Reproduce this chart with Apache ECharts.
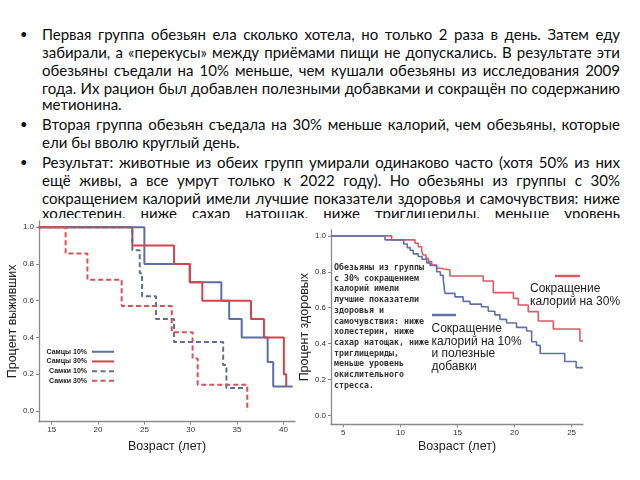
<!DOCTYPE html>
<html><head><meta charset="utf-8">
<script src="https://cdn.jsdelivr.net/npm/echarts@6/dist/echarts.min.js"></script>
<style>
html,body{margin:0;padding:0;background:#fff;}
#wrap{position:relative;width:640px;height:480px;overflow:hidden;background:#fff;}
#text{position:absolute;left:0;top:0;width:640px;height:480px;font-family:Lato,'Liberation Sans',sans-serif;color:#0d0d0d;}
.ln{position:absolute;left:42px;white-space:nowrap;}
.bul{position:absolute;left:20px;font-size:13px;}
#chart{position:absolute;left:0;top:0;width:640px;height:480px;}
</style></head>
<body><div id="wrap"><div id="text"></div><div id="chart"></div></div>
<script>
// ---------- slide text ----------
const textLines = [
  "Первая группа обезьян ела сколько хотела, но только 2 раза в день. Затем еду",
  "забирали, а «перекусы» между приёмами пищи не допускались. В результате эти",
  "обезьяны съедали на 10% меньше, чем кушали обезьяны из исследования 2009",
  "года. Их рацион был добавлен полезными добавками и сокращён по содержанию",
  "метионина.",
  "Вторая группа обезьян съедала на 30% меньше калорий, чем обезьяны, которые",
  "ели бы вволю круглый день.",
  "Результат: животные из обеих групп умирали одинаково часто (хотя 50% из них",
  "ещё живы, а все умрут только к 2022 году). Но обезьяны из группы с 30%",
  "сокращением калорий имели лучшие показатели здоровья и самочувствия: ниже",
  "холестерин, ниже сахар натощак, ниже триглицериды, меньше уровень"
];
const bulletLines = [0, 5, 7];
const lastLines = [4, 6];

// ---------- left chart data (survival) ----------
const leftSeriesNames = ["Самцы 10%", "Самцы 30%", "Самки 10%", "Самки 30%"];
const maleAge10 = [13.6, 25.0, 29.9, 33.3, 34.15, 35.5, 38.3, 38.9, 41.0];
const maleSurv10 = [1.0, 0.8, 0.7, 0.6, 0.5, 0.4, 0.267, 0.133, 0.133];
const maleAge30 = [13.6, 23.7, 28.2, 29.9, 31.25, 36.5, 37.9, 40.05, 40.3];
const maleSurv30 = [1.0, 0.9, 0.8, 0.7, 0.6, 0.5, 0.4, 0.2, 0.133];
const femAge10 = [13.6, 23.7, 24.5, 24.75, 26.25, 28.2, 33.5, 33.85, 35.7];
const femSurv10 = [1.0, 0.875, 0.75, 0.625, 0.5, 0.375, 0.25, 0.125, 0.125];
const femAge30 = [13.6, 16.5, 18.85, 22.55, 27.95, 30.2, 30.75, 36.1];
const femSurv30 = [1.0, 0.857, 0.714, 0.571, 0.429, 0.286, 0.143, 0.0];
const leftXTicks = [15, 20, 25, 30, 35, 40];
const leftYTicks = [0, 0.2, 0.4, 0.6, 0.8, 1.0];

// ---------- right chart data (healthy) ----------
const r30Age = [3.92, 9.23, 11.28, 11.57, 11.86, 12.0, 12.24, 12.45, 12.74, 13.18, 13.47, 14.34, 17.26, 18.14, 19.9, 20.33, 21.2, 22.08, 23.4, 25.73, 26.0];
const r30Val = [1.0, 0.978, 0.959, 0.94, 0.913, 0.894, 0.875, 0.857, 0.838, 0.82, 0.81, 0.777, 0.749, 0.684, 0.652, 0.615, 0.578, 0.526, 0.481, 0.414, 0.414];
const r10Age = [3.92, 8.65, 10.3, 10.6, 10.85, 11.13, 11.55, 11.9, 12.3, 12.6, 13.18, 13.5, 13.76, 13.9, 14.78, 15.5, 16.1, 17.1, 17.7, 18.28, 18.72, 19.3, 20.18, 21.06, 21.5, 21.93, 22.25, 24.4, 25.4, 26.0];
const r10Val = [1.0, 0.978, 0.955, 0.935, 0.92, 0.90, 0.885, 0.87, 0.85, 0.835, 0.80, 0.78, 0.755, 0.68, 0.66, 0.635, 0.62, 0.605, 0.58, 0.56, 0.535, 0.515, 0.49, 0.47, 0.41, 0.39, 0.345, 0.30, 0.266, 0.266];
const rightXTicks = [5, 10, 15, 20, 25];
const rightYTicks = [0, 0.2, 0.4, 0.6, 0.8, 1.0];

const annotationText = ["Обезьяны из группы","с 30% сокращением","калорий имели","лучшие показатели","здоровья и","самочувствия: ниже","холестерин, ниже","сахар натощак, ниже","триглицериды,","меньше уровень","окислительного","стресса."];
const label30 = ["Сокращение", "калорий на 30%"];
const label10 = ["Сокращение", "калорий на 10%", "и полезные", "добавки"];

// ---------- render text ----------
const lineY = [25, 43, 61, 79, 95, 115, 133, 153, 171, 189, 204];
const textBox = document.getElementById('text');
const lineEls = [];
textLines.forEach((t, i) => {
  const d = document.createElement('div');
  d.className = 'ln';
  d.style.top = lineY[i] + 'px';
  d.textContent = t;
  textBox.appendChild(d);
  lineEls.push(d);
  if (bulletLines.includes(i)) {
    const b = document.createElement('div');
    b.className = 'bul';
    b.style.top = (lineY[i] + 1) + 'px';
    b.textContent = '•';
    textBox.appendChild(b);
  }
});
const TARGET = 578;
let fs = 15;
lineEls.forEach(e => e.style.fontSize = fs + 'px');
let maxW = 0;
lineEls.forEach((e, i) => { if (!lastLines.includes(i)) maxW = Math.max(maxW, e.getBoundingClientRect().width); });
fs = Math.max(12, Math.min(17, fs * (TARGET - 4) / maxW));
lineEls.forEach((e, i) => {
  e.style.fontSize = fs.toFixed(2) + 'px';
  if (!lastLines.includes(i)) {
    const w = e.getBoundingClientRect().width;
    const spaces = (textLines[i].match(/ /g) || []).length;
    if (spaces) e.style.wordSpacing = ((TARGET - w) / spaces).toFixed(2) + 'px';
  }
});

// ---------- chart ----------
const zip = (a, b) => a.map((v, i) => [v, b[i]]);
const axisCol = '#8a8a8a';
function xAx(gi, min, max, ticks, gap) {
  return {
    type: 'value', gridIndex: gi, min, max,
    name: 'Возраст (лет)', nameLocation: 'middle', nameGap: gap,
    nameTextStyle: {fontSize: 12.5, color: '#222', fontFamily: 'Liberation Sans'},
    axisLine: {show: true, onZero: false, lineStyle: {color: axisCol, width: 1.3}},
    axisTick: {show: true, customValues: ticks, length: 3, lineStyle: {color: axisCol}},
    axisLabel: {customValues: ticks, fontSize: 8, color: '#333', margin: 4, fontFamily: 'Liberation Sans'},
    splitLine: {show: false}
  };
}
function yAx(gi, min, max, ticks, name, gap) {
  return {
    type: 'value', gridIndex: gi, min, max,
    name, nameLocation: 'middle', nameGap: gap,
    nameTextStyle: {fontSize: 12.5, color: '#222', fontFamily: 'Liberation Sans'},
    axisLine: {show: true, onZero: false, lineStyle: {color: axisCol, width: 1.3}},
    axisTick: {show: true, customValues: ticks, length: 3, lineStyle: {color: axisCol}},
    axisLabel: {customValues: ticks, fontSize: 8, color: '#333', margin: 5, fontFamily: 'Liberation Sans',
      formatter: v => v.toFixed(1)},
    splitLine: {show: false}
  };
}
function stepSeries(name, ages, vals, color, dashed, width, gi) {
  return {
    type: 'line', name, step: 'end', symbol: 'none', xAxisIndex: gi, yAxisIndex: gi,
    data: zip(ages, vals),
    lineStyle: {color, width, type: dashed ? [5, 3] : 'solid'},
    itemStyle: {color},
    emphasis: {disabled: true}, animation: false
  };
}

const solidIcon = 'path://M0,0H22V2H0Z';
const dashIcon = 'path://M0,0H5V2H0Z M8.5,0H13.5V2H8.5Z M17,0H22V2H17Z';

const graphics = [
  {type: 'rect', shape: {x: 0, y: 218, width: 640, height: 262}, style: {fill: '#fff'}, z: -100, silent: true},
  {type: 'text', left: 334, top: 262.5, z: 100,
    style: {text: annotationText.join('\n'), font: 'bold 8.3px "DejaVu Sans Mono"', lineHeight: 10.7, fill: '#333'}},
  {type: 'line', shape: {x1: 555, y1: 276, x2: 580, y2: 276}, style: {stroke: '#dc5a66', lineWidth: 2.5}, z: 100},
  {type: 'text', left: 530, top: 282, z: 100,
    style: {text: label30.join('\n'), font: '12px "Liberation Sans"', lineHeight: 13.3, fill: '#222'}},
  {type: 'line', shape: {x1: 432, y1: 315, x2: 456, y2: 315}, style: {stroke: '#6270ac', lineWidth: 2.5}, z: 100},
  {type: 'text', left: 431.5, top: 322, z: 100,
    style: {text: label10.join('\n'), font: '12px "Liberation Sans"', lineHeight: 12.8, fill: '#222'}}
];

const option = {
  animation: false,
  backgroundColor: 'transparent',
  grid: [
    {left: 39, top: 221, width: 256, height: 200.7},
    {left: 331, top: 230, width: 252, height: 194.3}
  ],
  xAxis: [xAx(0, 13.63, 41.25, leftXTicks, 18), xAx(1, 3.92, 26.0, rightXTicks, 16)],
  yAxis: [yAx(0, -0.0586, 1.034, leftYTicks, 'Процент выживших', 17),
          yAx(1, -0.05, 1.033, rightYTicks, 'Процент здоровых', 17)],
  legend: {
    data: leftSeriesNames.map((n, i) => ({name: n, icon: i < 2 ? solidIcon : dashIcon})),
    orient: 'vertical', left: 45, top: 347.5, padding: 0,
    align: 'right', itemWidth: 22, itemHeight: 2, itemGap: 1.2,
    textStyle: {fontSize: 7, fontWeight: 'bold', color: '#222', width: 42, lineHeight: 8.5, fontFamily: 'Liberation Sans'},
    selectedMode: false
  },
  series: [
    stepSeries(leftSeriesNames[0], maleAge10, maleSurv10, '#5b6ea6', false, 2, 0),
    stepSeries(leftSeriesNames[1], maleAge30, maleSurv30, '#d9414a', false, 2, 0),
    stepSeries(leftSeriesNames[2], femAge10, femSurv10, '#5f6d96', true, 2, 0),
    stepSeries(leftSeriesNames[3], femAge30, femSurv30, '#d9505a', true, 2, 0),
    stepSeries('Сокращение калорий на 30%', r30Age, r30Val, '#dc5a66', false, 1.6, 1),
    stepSeries('Сокращение калорий на 10% и полезные добавки', r10Age, r10Val, '#6270ac', false, 1.6, 1)
  ],
  graphic: {elements: graphics}
};
const chart = echarts.init(document.getElementById('chart'));
chart.setOption(option);
</script>
</body></html>
